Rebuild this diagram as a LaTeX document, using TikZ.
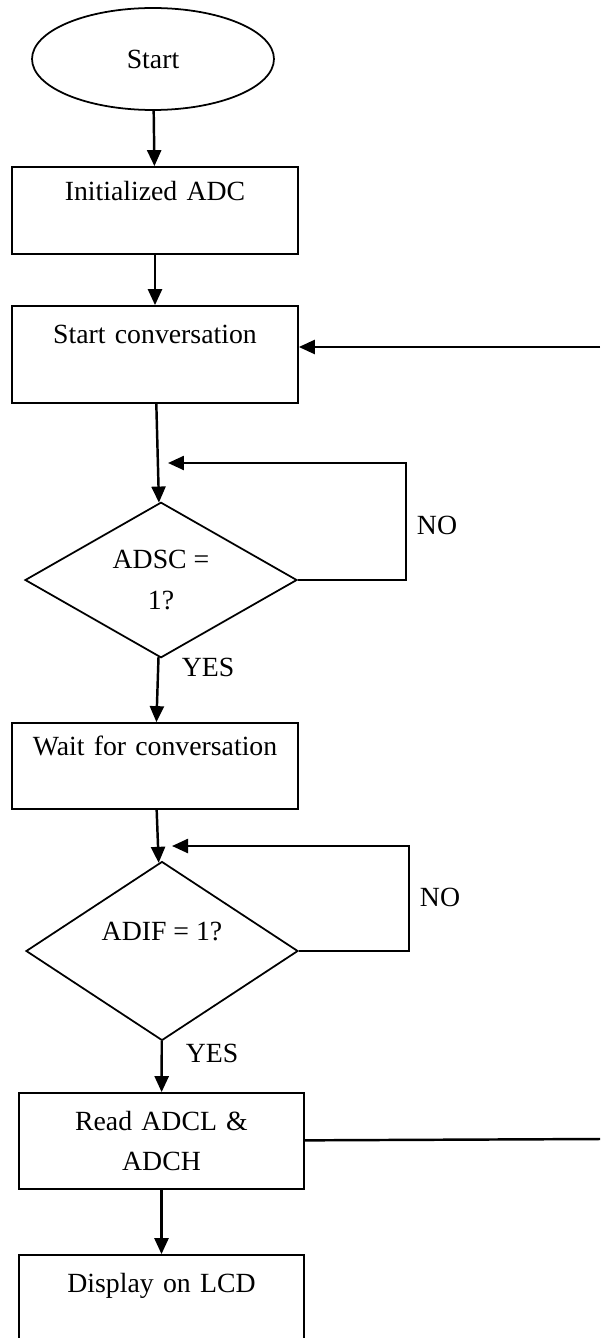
\documentclass[tikz,border=0pt]{standalone}
\usepackage{fontspec}
\setmainfont{Liberation Serif}
\usetikzlibrary{shapes.geometric,arrows.meta}

\begin{document}
\begin{tikzpicture}[x=0.02cm,y=-0.02cm,
    font=\fontsize{15.8}{22.8}\selectfont,
    box/.style={draw,line width=1pt,minimum width=5.72cm,text width=5.4cm,align=center,inner sep=0pt},
    cond/.style={draw,diamond,line width=1pt,minimum width=5.44cm,minimum height=3cm,inner sep=0pt,align=center},
    arr/.style={line width=1.4pt,-{Triangle[length=0.32cm,width=0.28cm]}},
    lin/.style={line width=1.4pt}]
  \useasboundingbox (0,0) rectangle (600,1338);

  \node[draw,ellipse,line width=1pt,minimum width=4.84cm,minimum height=2.04cm] (start) at (153,59) {Start};
  \node[box,minimum height=1.74cm] (init) at (155,210.5) {Initialized ADC\\ \mbox{}};
  \node[box,minimum height=1.94cm] (conv) at (155,354.5) {Start conversation\\ \mbox{}};
  \node[cond] (dsc) at (161,580) {ADSC =\\1?};
  \node[box,minimum height=1.72cm] (wait) at (155,766) {Wait for conversation\\ \mbox{}};
  \node[cond] (dif) at (162,951) {ADIF = 1?\\ \mbox{}};
  \node[box,minimum width=5.7cm,minimum height=1.92cm] (read) at (161.5,1141) {Read ADCL \&\\ADCH};
  \node[box,minimum width=5.7cm,minimum height=1.9cm] (disp) at (161.5,1302.5) {Display on LCD\\ \mbox{}};

  % labels
  \node (no1) at (437,525) {NO};
  \node (yes1) at (208,667) {YES};
  \node (no2) at (440,897) {NO};
  \node (yes2) at (212,1053) {YES};

  % main flow
  \draw[arr] (start) -- (init);
  \draw[arr] (init) -- (conv);
  \draw[arr] (conv) -- (dsc);
  \draw[arr] (dsc) -- (wait);
  \draw[arr] (wait) -- (dif);
  \draw[arr] (dif) -- (read);
  \draw[arr] (read) -- (disp);

  % loops back
  \coordinate (back1) at (168,463);
  \coordinate (back2) at (172,846);
  \draw[arr] (dsc.east) -- ++(108,0) |- (back1);
  \draw[arr] (dif.east) -- ++(110,0) |- (back2);

  % return to start conversation
  \coordinate (edgetop) at (600,347);
  \coordinate (edgebot) at (600,1139);
  \draw[lin] (read) -- (edgebot);
  \draw[arr] (edgetop) -- (conv.east |- edgetop);
\end{tikzpicture}
\end{document}
